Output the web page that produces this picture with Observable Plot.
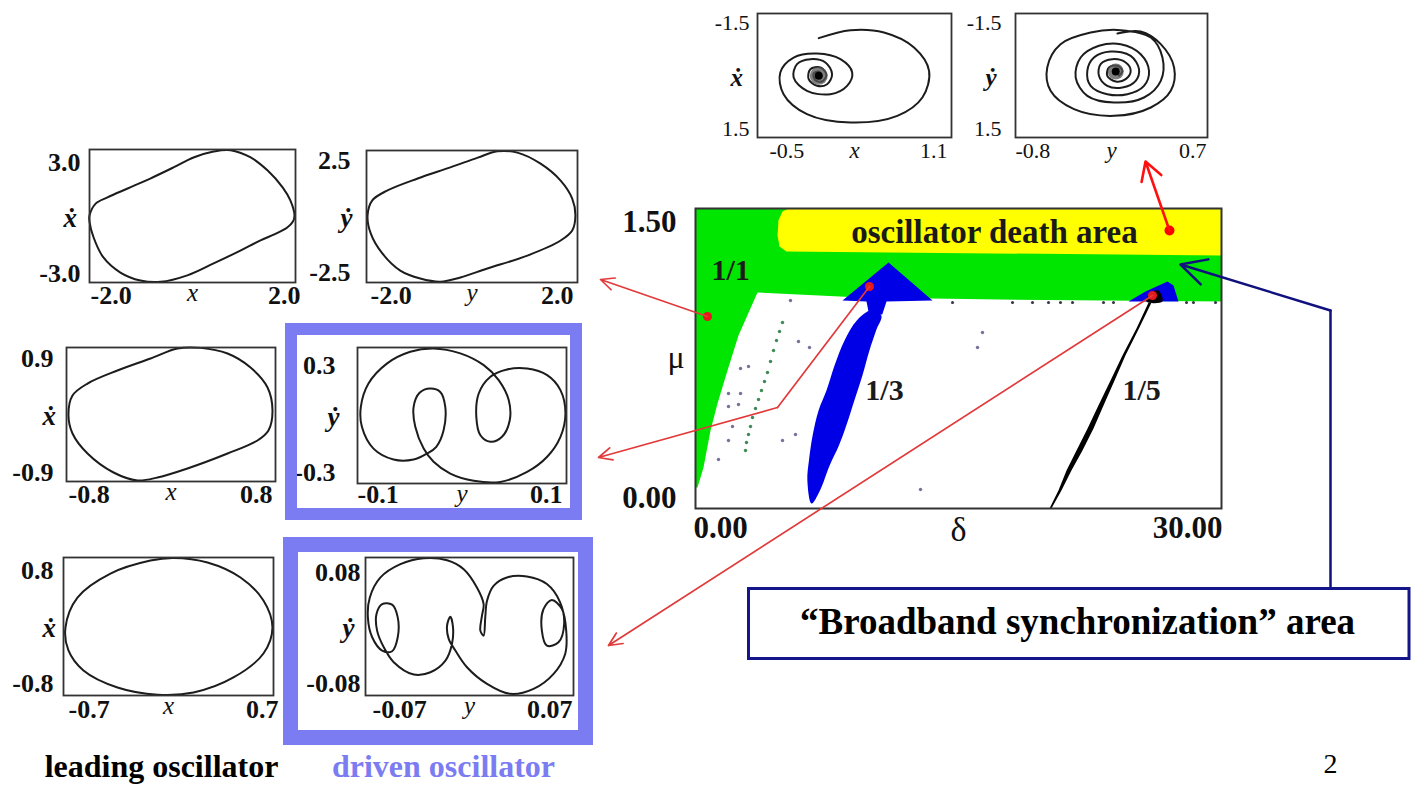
<!DOCTYPE html>
<html><head><meta charset="utf-8">
<script src="https://cdn.jsdelivr.net/npm/d3@7"></script>
<script src="https://cdn.jsdelivr.net/npm/@observablehq/plot@0.6"></script>
<style>
html,body{margin:0;padding:0;background:#fff;}
#page{position:relative;width:1416px;height:785px;overflow:hidden;background:#fff;}
#page svg{overflow:visible;}
</style></head>
<body><div id="page"></div>
<script>
const serif = '"Liberation Serif","DejaVu Serif","Times New Roman",serif';

// ---------------- phase portraits ----------------
// top: unsynchronised spirals near oscillator death (x, xdot) and (y, ydot)
const spiralX = [[0.005,-0.903],[0.267,-1.097],[0.543,-1.040],[0.791,-0.677],[0.915,-0.113],[0.860,0.532],[0.653,0.976],[0.267,1.137],[-0.092,0.935],[-0.285,0.452],[-0.312,-0.073],[-0.202,-0.435],[-0.009,-0.532],[0.184,-0.395],[0.281,-0.073],[0.239,0.250],[0.101,0.452],[-0.092,0.371],[-0.202,0.048],[-0.174,-0.274],[-0.064,-0.395],[0.060,-0.315],[0.115,-0.032],[0.074,0.210],[-0.009,0.250],[-0.078,0.089],[-0.064,-0.153],[0.019,-0.194],[0.068,-0.016],[0.032,0.145],[-0.023,0.113],[-0.037,-0.048],[0.005,-0.097],[0.032,0.008]];
const spiralY = [[-0.004,-1.016],[0.178,-1.065],[0.335,-0.758],[0.439,-0.194],[0.413,0.371],[0.257,0.774],[-0.030,0.976],[-0.343,0.815],[-0.526,0.371],[-0.552,-0.194],[-0.448,-0.758],[-0.213,-1.040],[0.022,-1.097],[0.257,-0.919],[0.348,-0.435],[0.335,0.129],[0.204,0.532],[-0.030,0.653],[-0.239,0.492],[-0.330,0.048],[-0.291,-0.435],[-0.148,-0.718],[0.022,-0.758],[0.178,-0.516],[0.243,-0.113],[0.204,0.250],[0.074,0.452],[-0.083,0.452],[-0.213,0.250],[-0.239,-0.113],[-0.187,-0.435],[-0.057,-0.581],[0.100,-0.476],[0.165,-0.153],[0.139,0.129],[0.035,0.290],[-0.083,0.250],[-0.148,0.008],[-0.135,-0.274],[-0.043,-0.395],[0.061,-0.315],[0.100,-0.113],[0.061,0.089],[-0.017,0.145],[-0.083,0.008],[-0.070,-0.194],[-0.004,-0.234],[0.035,-0.113],[0.009,0.008]];
const spiralXCore = [[0.005,0.008]];
const spiralYCore = [[-0.017,-0.097]];

// leading oscillator (x, xdot) rows 1..3
const lead1 = [[-2.0,0.02],[-1.88,0.56],[-1.65,0.84],[-1.26,1.24],[-0.82,1.69],[-0.37,2.19],[0.02,2.64],[0.41,2.91],[0.74,2.97],[1.13,2.64],[1.46,2.05],[1.75,1.29],[1.90,0.70],[1.98,0.02],[1.95,-0.25],[1.84,-0.52],[1.60,-0.82],[1.32,-1.10],[0.93,-1.56],[0.41,-2.14],[-0.10,-2.68],[-0.62,-2.97],[-1.01,-2.91],[-1.40,-2.55],[-1.73,-1.87],[-1.92,-0.97],[-2.0,-0.25]];
const lead2 = [[-0.785,-0.01],[-0.754,0.255],[-0.639,0.416],[-0.41,0.591],[-0.157,0.752],[0.05,0.887],[0.226,0.895],[0.433,0.819],[0.609,0.631],[0.739,0.363],[0.777,0.054],[0.746,-0.215],[0.662,-0.349],[0.433,-0.524],[0.126,-0.725],[-0.103,-0.846],[-0.256,-0.885],[-0.44,-0.779],[-0.639,-0.524],[-0.754,-0.255]];
const lead3 = [[-0.687,-0.012],[-0.607,0.336],[-0.387,0.614],[-0.120,0.765],[0.033,0.795],[0.260,0.742],[0.480,0.568],[0.633,0.301],[0.693,-0.012],[0.633,-0.313],[0.433,-0.591],[0.167,-0.765],[-0.073,-0.790],[-0.340,-0.707],[-0.567,-0.510],[-0.667,-0.278]];

// driven oscillator (y, ydot) rows 1..3
const drive1 = [[-1.98,0.04],[-1.89,0.61],[-1.61,0.98],[-1.03,1.44],[-0.41,1.86],[0.11,2.23],[0.48,2.47],[0.86,2.42],[1.30,2.0],[1.68,1.36],[1.90,0.68],[1.96,0.04],[1.90,-0.53],[1.68,-0.91],[1.05,-1.48],[0.29,-1.97],[-0.22,-2.31],[-0.60,-2.47],[-0.98,-2.35],[-1.36,-2.05],[-1.70,-1.40],[-1.92,-0.64]];
const drive2 = [[-0.0335,-0.168],[-0.0463,-0.194],[-0.0655,-0.194],[-0.0847,-0.146],[-0.0958,-0.050],[-0.0968,0.038],[-0.0895,0.141],[-0.0719,0.229],[-0.0495,0.281],[-0.0272,0.296],[-0.0016,0.274],[0.0208,0.222],[0.0351,0.156],[0.0447,0.068],[0.0457,-0.021],[0.0383,-0.094],[0.0272,-0.116],[0.0176,-0.087],[0.0137,-0.006],[0.0160,0.097],[0.0272,0.171],[0.0431,0.203],[0.0623,0.207],[0.0815,0.178],[0.0942,0.112],[0.0990,0.009],[0.0942,-0.094],[0.0815,-0.182],[0.0623,-0.249],[0.0367,-0.293],[0.0112,-0.288],[-0.0112,-0.256],[-0.0272,-0.204],[-0.0367,-0.146],[-0.0447,-0.050],[-0.0463,0.038],[-0.0406,0.100],[-0.0304,0.119],[-0.0208,0.104],[-0.0160,0.038],[-0.0176,-0.065],[-0.0246,-0.138]];
const drive3 = [[-0.0308,0.0792],[-0.0465,0.0723],[-0.0599,0.0569],[-0.0671,0.0337],[-0.0684,0.0106],[-0.0655,-0.0125],[-0.0588,-0.0279],[-0.0521,-0.0287],[-0.0483,-0.0125],[-0.0483,0.0106],[-0.0521,0.0253],[-0.0588,0.0260],[-0.0626,0.0145],[-0.0622,-0.0048],[-0.0577,-0.0241],[-0.0510,-0.0414],[-0.0375,-0.0557],[-0.0263,-0.0530],[-0.0162,-0.0395],[-0.0118,-0.0202],[-0.0111,-0.0010],[-0.0129,0.0114],[-0.0151,0.0010],[-0.0140,-0.0144],[-0.0095,-0.0279],[-0.0017,-0.0472],[0.0118,-0.0665],[0.0274,-0.0781],[0.0431,-0.0723],[0.0566,-0.0549],[0.0644,-0.0318],[0.0651,-0.0048],[0.0622,0.0202],[0.0554,0.0307],[0.0498,0.0202],[0.0487,-0.0048],[0.0521,-0.0222],[0.0599,-0.0183],[0.0637,0.0029],[0.0610,0.0280],[0.0521,0.0492],[0.0386,0.0580],[0.0252,0.0569],[0.0162,0.0472],[0.0118,0.0299],[0.0106,0.0106],[0.0095,-0.0106],[0.0073,-0.0048],[0.0084,0.0125],[0.0095,0.0260],[0.0050,0.0453],[-0.0039,0.0665],[-0.0151,0.0769]];

// ---------------- parameter map (delta, mu) ----------------
const deltaRange = [0, 30];
const muRange = [0, 1.5];
const greenRegion = [[0,1.5],[30,1.5],[30,1.035],[17.4,1.045],[9.41,1.055],[3.536,1.08],[2.452,0.865],[1.825,0.69],[1.255,0.525],[0.856,0.39],[0.456,0.205],[0.114,0.105],[0,0.105]];
const deathRegion = [[5.3,1.5],[30,1.5],[30,1.265],[5.19,1.285],[4.79,1.31],[4.68,1.365],[4.73,1.44],[4.96,1.485]];
const cap13 = [[8.384,1.04],[11.008,1.23],[13.517,1.04],[10.894,1.035],[10.65,0.97],[9.9,0.97],[9.753,1.035]];
const tongue13 = [[10.0,0.99],[9.2,0.94],[8.5,0.84],[7.93,0.715],[7.47,0.59],[7.02,0.49],[6.68,0.365],[6.47,0.24],[6.38,0.14],[6.62,0.025],[7.1,0.09],[7.65,0.215],[8.18,0.315],[8.6,0.415],[9.06,0.54],[9.52,0.665],[9.92,0.79],[10.3,0.89],[10.6,0.965]];
const cap15 = [[24.696,1.035],[25.665,1.085],[26.920,1.135],[27.262,1.115],[27.547,1.035]];
const core15 = [[25.72,1.035],[25.95,1.08],[26.40,1.09],[26.63,1.035]];
const tongue15 = [[20.19,0],[20.70,0.09],[21.16,0.19],[21.73,0.29],[22.36,0.40],[22.98,0.515],[23.67,0.64],[24.35,0.765],[25.15,0.90],[25.84,1.03],[26.01,1.03],[25.29,0.90],[24.52,0.765],[23.90,0.64],[23.27,0.515],[22.70,0.40],[22.07,0.29],[21.44,0.19],[20.87,0.09],[20.30,0]];
const greenDots = [[4.962,0.93],[4.791,0.885],[4.620,0.84],[4.449,0.79],[4.278,0.735],[4.106,0.68],[3.935,0.635],[3.764,0.59],[3.593,0.545],[3.422,0.50],[3.251,0.455],[3.137,0.41],[3.023,0.37],[2.909,0.33],[2.852,0.29]];
const scatterDots = [[1.882,0.575],[2.567,0.575],[1.882,0.51],[2.452,0.52],[2.110,0.41],[1.882,0.34],[1.312,0.245],[4.962,0.34],[5.703,0.37],[12.833,0.095],[5.418,1.04],[5.874,0.835],[6.502,0.805],[2.567,0.70],[3.023,0.71],[16.369,0.88],[16.084,0.805]];
const edgeDots = [[14.658,1.03],[18.080,1.03],[19.220,1.03],[20.133,1.03],[20.817,1.03],[21.502,1.03],[23.270,1.03],[23.840,1.03],[28.004,1.03],[28.40,1.03],[29.658,1.03]];
const mapLabels = [
  {d:17.05, m:1.38, t:"oscillator death area"},
  {d:2.0, m:1.19, t:"1/1"},
  {d:10.78, m:0.59, t:"1/3"},
  {d:25.44, m:0.59, t:"1/5"}
];
const markers = [[0.684,0.96],[9.924,1.11],[26.065,1.065],[27.034,1.39]];

// ---------------- annotations (page pixels) ----------------
const redTips = [[600,279],[598,457],[608,645],[1145,161]];
const redBend = [777,407];
const navyPath = [[1330,588],[1330,310],[1180,264]];
const boxText = "\u201CBroadband synchronization\u201D area";
const footLabels = [{t:"leading oscillator", c:"#000"},{t:"driven oscillator", c:"#7c7cf2"}];

// ---------------- drawing ----------------
const page = document.getElementById("page");
function place(el, left, top) {
  const d = document.createElement("div");
  d.style.cssText = `position:absolute;left:${left}px;top:${top}px;`;
  d.appendChild(el);
  page.appendChild(d);
}

function panel(cfg) {
  const [x0, y0, x1, y1] = cfg.frame;
  const mL = 70, mR = 30, mT = 16, mB = 44;
  const o = cfg.off;
  const fmt = d => d.toFixed(cfg.dec);
  const tick = {fontFamily: serif, fontSize: cfg.tickSize, fontWeight: cfg.tickWeight, fill: "#111"};
  const topV = cfg.rev ? cfg.yDomain[0] : cfg.yDomain[1];
  const botV = cfg.rev ? cfg.yDomain[1] : cfg.yDomain[0];
  const marks = [
    Plot.frame({fill: "white"}),
    Plot.line(cfg.data, {x: d => d[0], y: d => d[1], curve: cfg.curve, stroke: "#1c1c1c", strokeWidth: 2}),
  ];
  if (cfg.core) {
    marks.push(Plot.dot(cfg.core, {x: d => d[0], y: d => d[1], r: cfg.coreR, fill: "#555", fillOpacity: 0.75}));
    marks.push(Plot.dot(cfg.core, {x: d => d[0], y: d => d[1], r: 4, fill: "#000"}));
  }
  marks.push(
    Plot.frame({stroke: "#333", strokeWidth: 1.8}),
    Plot.text([cfg.xDomain[0]], {x: d => d, frameAnchor: "bottom", text: fmt, textAnchor: "start", dx: o.xl, dy: o.xdy, ...tick}),
    Plot.text([cfg.xDomain[1]], {x: d => d, frameAnchor: "bottom", text: fmt, textAnchor: "end", dx: o.xr, dy: o.xdy, ...tick}),
    Plot.text([topV], {y: d => d, frameAnchor: "left", text: fmt, textAnchor: "end", dx: o.yx, dy: o.yt, ...tick}),
    Plot.text([botV], {y: d => d, frameAnchor: "left", text: fmt, textAnchor: "end", dx: o.yx, dy: -o.yb, ...tick}),
    Plot.text([cfg.xName], {frameAnchor: "bottom", text: d => d, dy: o.ndy, fontFamily: serif, fontStyle: "italic", fontSize: cfg.nameSize, fill: "#111"}),
    Plot.text([cfg.yName], {frameAnchor: "left", text: d => d, dx: o.ndx, dy: 2, fontFamily: serif, fontStyle: "italic", fontWeight: "bold", fontSize: cfg.nameSize + 2, fill: "#111"})
  );
  const p = Plot.plot({
    width: (x1 - x0) + mL + mR, height: (y1 - y0) + mT + mB,
    marginLeft: mL, marginRight: mR, marginTop: mT, marginBottom: mB,
    x: {domain: cfg.xDomain, axis: null},
    y: {domain: cfg.yDomain, axis: null, reverse: !!cfg.rev},
    style: {background: "transparent", overflow: "visible", fontFamily: serif},
    marks
  });
  place(p, x0 - mL, y0 - mT);
}

const leftOff = (a) => Object.assign({xl: 2, xr: 2, xdy: 21, yx: -11, yt: 13, yb: 10, ndy: 18, ndx: -25}, a);
const panels = [
  {frame:[757,13,951,137], xDomain:[-0.5,1.1], yDomain:[-1.5,1.5], rev:true, data:spiralX, curve:"catmull-rom", core:spiralXCore, coreR:9, dec:1, xName:"x", yName:"\u1E8B", tickSize:22, tickWeight:"normal", nameSize:23, off:{xl:12,xr:-4,xdy:20,yx:-8,yt:9,yb:9,ndy:20,ndx:-27}},
  {frame:[1015,13,1207,137], xDomain:[-0.8,0.7], yDomain:[-1.5,1.5], rev:true, data:spiralY, curve:"catmull-rom", core:spiralYCore, coreR:8, dec:1, xName:"y", yName:"\u1E8F", tickSize:22, tickWeight:"normal", nameSize:23, off:{xl:0,xr:-1,xdy:20,yx:-14,yt:9,yb:9,ndy:20,ndx:-30}},
  {frame:[89,149,295,282], xDomain:[-2,2], yDomain:[-3,3], data:lead1, curve:"catmull-rom-closed", dec:1, xName:"x", yName:"\u1E8B", tickSize:26, tickWeight:"bold", nameSize:25, off:leftOff({xl:1,xr:5,yx:-9,yt:13,yb:9,ndx:-26})},
  {frame:[366,150,577,282], xDomain:[-2,2], yDomain:[-2.5,2.5], data:drive1, curve:"catmull-rom-closed", dec:1, xName:"y", yName:"\u1E8F", tickSize:26, tickWeight:"bold", nameSize:25, off:leftOff({xl:4,xr:-4,yx:-16,yt:10,yb:10,ndx:-26})},
  {frame:[66,347,275,481], xDomain:[-0.8,0.8], yDomain:[-0.9,0.9], data:lead2, curve:"catmull-rom-closed", dec:1, xName:"x", yName:"\u1E8B", tickSize:26, tickWeight:"bold", nameSize:25, off:leftOff({xl:2,xr:-3,yx:-13,yt:11,yb:9,ndx:-24})},
  {frame:[357,347,566,483], xDomain:[-0.1,0.1], yDomain:[-0.3,0.3], data:drive2, curve:"catmull-rom-closed", dec:1, xName:"y", yName:"\u1E8F", tickSize:26, tickWeight:"bold", nameSize:25, off:leftOff({xl:0,xr:-4,xdy:19,yx:-22,yt:18,yb:11,ndx:-30})},
  {frame:[63,557,273,695], xDomain:[-0.7,0.7], yDomain:[-0.8,0.8], data:lead3, curve:"catmull-rom-closed", dec:1, xName:"x", yName:"\u1E8B", tickSize:26, tickWeight:"bold", nameSize:25, off:leftOff({xl:5,xr:5,xdy:22,yx:-10,yt:13,yb:12,ndx:-21})},
  {frame:[365,557,573,695], xDomain:[-0.07,0.07], yDomain:[-0.08,0.08], data:drive3, curve:"catmull-rom-closed", dec:2, xName:"y", yName:"\u1E8F", tickSize:26, tickWeight:"bold", nameSize:25, off:leftOff({xl:7,xr:-1,xdy:22,yx:-5,yt:15,yb:12,ndx:-23})}
];
panels.forEach(panel);

// ---- parameter map ----
const MAP = {x0:695, y0:208, x1:1221, y1:508, mL:100, mR:20, mT:20, mB:60};
const P = d => d[0], Q = d => d[1];
const blue = "#0000e6";
const mapTick = {fontFamily: serif, fontSize: 31, fontWeight: "bold", fill: "#111"};
const mapPlot = Plot.plot({
  width: (MAP.x1 - MAP.x0) + MAP.mL + MAP.mR, height: (MAP.y1 - MAP.y0) + MAP.mT + MAP.mB,
  marginLeft: MAP.mL, marginRight: MAP.mR, marginTop: MAP.mT, marginBottom: MAP.mB,
  x: {domain: deltaRange, axis: null}, y: {domain: muRange, axis: null},
  style: {background: "transparent", overflow: "visible", fontFamily: serif},
  marks: [
    Plot.frame({fill: "white"}),
    Plot.line(greenRegion, {x: P, y: Q, fill: "#00e600", stroke: "none", curve: "linear-closed"}),
    Plot.line(deathRegion, {x: P, y: Q, fill: "#ffff00", stroke: "none", curve: "linear-closed"}),
    Plot.line(cap13, {x: P, y: Q, fill: blue, stroke: "none", curve: "linear-closed"}),
    Plot.line(tongue13, {x: P, y: Q, fill: blue, stroke: "none", curve: "catmull-rom-closed"}),
    Plot.line(cap15, {x: P, y: Q, fill: blue, stroke: "none", curve: "linear-closed"}),
    Plot.line(tongue15, {x: P, y: Q, fill: "#000", stroke: "none", curve: "linear-closed"}),
    Plot.line(core15, {x: P, y: Q, fill: "#000", stroke: "none", curve: "catmull-rom-closed"}),
    Plot.dot(greenDots, {x: P, y: Q, r: 1.7, fill: "#3d8a55"}),
    Plot.dot(scatterDots, {x: P, y: Q, r: 1.7, fill: "#7a6f9a"}),
    Plot.dot(edgeDots, {x: P, y: Q, r: 1.5, fill: "#334"}),
    Plot.text(mapLabels.slice(0, 1), {x: "d", y: "m", text: "t", fontFamily: serif, fontSize: 33, fontWeight: "bold", fill: "#1a1a1a"}),
    Plot.text(mapLabels.slice(1), {x: "d", y: "m", text: "t", fontFamily: serif, fontSize: 30, fontWeight: "bold", fill: "#1a1a1a"}),
    Plot.dot(markers.slice(0, 3), {x: P, y: Q, r: 4.5, fill: "#e3191c"}),
    Plot.dot(markers.slice(3), {x: P, y: Q, r: 5, fill: "#ff0000"}),
    Plot.frame({stroke: "#333", strokeWidth: 2}),
    Plot.text([muRange[1]], {y: d => d, frameAnchor: "left", text: d => d.toFixed(2), textAnchor: "end", dx: -19, dy: 14, ...mapTick}),
    Plot.text([muRange[0]], {y: d => d, frameAnchor: "left", text: d => d.toFixed(2), textAnchor: "end", dx: -19, dy: -10, ...mapTick}),
    Plot.text([deltaRange[0]], {x: d => d, frameAnchor: "bottom", text: d => d.toFixed(2), textAnchor: "start", dx: -2, dy: 29, ...mapTick}),
    Plot.text([deltaRange[1]], {x: d => d, frameAnchor: "bottom", text: d => d.toFixed(2), textAnchor: "end", dx: 1, dy: 29, ...mapTick}),
    Plot.text(["\u03BC"], {frameAnchor: "left", text: d => d, dx: -28, dy: -1, fontFamily: serif, fontSize: 32, fill: "#111"}),
    Plot.text(["\u03B4"], {frameAnchor: "bottom", text: d => d, dy: 32, fontFamily: serif, fontSize: 34, fill: "#111"})
  ]
});
place(mapPlot, MAP.x0 - MAP.mL, MAP.y0 - MAP.mT);

// ---- overlay: highlight frames, arrows, box, footer ----
const sx = mapPlot.scale("x"), sy = mapPlot.scale("y");
const fx = d3.scaleLinear(sx.domain, sx.range), fy = d3.scaleLinear(sy.domain, sy.range);
const toPage = ([d, m]) => [MAP.x0 - MAP.mL + fx(d), MAP.y0 - MAP.mT + fy(m)];
const M = markers.map(toPage);
const red = "#e23a3a";
const seg = (a, b) => ({x1: a[0], y1: a[1], x2: b[0], y2: b[1]});
const A = {x1: "x1", y1: "y1", x2: "x2", y2: "y2"};
const hl = "#7c7cf2";
const overlay = Plot.plot({
  width: 1416, height: 785, margin: 0,
  x: {type: "identity", axis: null}, y: {type: "identity", axis: null},
  style: {background: "transparent", overflow: "visible", fontFamily: serif},
  marks: [
    Plot.rect([{x1: 291, x2: 576, y1: 329, y2: 514}], {...A, stroke: hl, strokeWidth: 12, fill: "none"}),
    Plot.rect([{x1: 290.5, x2: 585.5, y1: 544.5, y2: 737.5}], {...A, stroke: hl, strokeWidth: 15, fill: "none"}),
    Plot.arrow([seg(M[0], redTips[0])], {...A, stroke: red, strokeWidth: 1.7, headLength: 13, headAngle: 50}),
    Plot.line([M[1], redBend], {x: P, y: Q, stroke: red, strokeWidth: 1.7}),
    Plot.arrow([seg(redBend, redTips[1])], {...A, stroke: red, strokeWidth: 1.7, headLength: 13, headAngle: 50}),
    Plot.arrow([seg(M[2], redTips[2])], {...A, stroke: red, strokeWidth: 1.7, headLength: 13, headAngle: 50}),
    Plot.arrow([seg(M[3], redTips[3])], {...A, stroke: "#ff1010", strokeWidth: 2.6, headLength: 12, headAngle: 60}),
    Plot.line(navyPath.slice(0, 2), {x: P, y: Q, stroke: "#10107e", strokeWidth: 2.5}),
    Plot.arrow([seg(navyPath[1], navyPath[2])], {...A, stroke: "#10107e", strokeWidth: 2.5, headLength: 17, headAngle: 55}),
    Plot.rect([{x1: 748.5, x2: 1409, y1: 588.5, y2: 658.5}], {...A, stroke: "#15158a", strokeWidth: 3, fill: "white"}),
    Plot.text([boxText], {x: () => 1077, y: () => 622, text: d => d, fontFamily: serif, fontWeight: "bold", fontSize: 37, fill: "#000"}),
    Plot.text([footLabels[0]], {x: () => 161, y: () => 766, text: "t", fill: "c", fontFamily: serif, fontWeight: "bold", fontSize: 32}),
    Plot.text([footLabels[1]], {x: () => 443, y: () => 766, text: "t", fill: hl, fontFamily: serif, fontWeight: "bold", fontSize: 32}),
    Plot.text(["2"], {x: () => 1330, y: () => 764, text: d => d, fontFamily: serif, fontSize: 28, fill: "#000"})
  ]
});
overlay.style.pointerEvents = "none";
place(overlay, 0, 0);
</script>
</body></html>
